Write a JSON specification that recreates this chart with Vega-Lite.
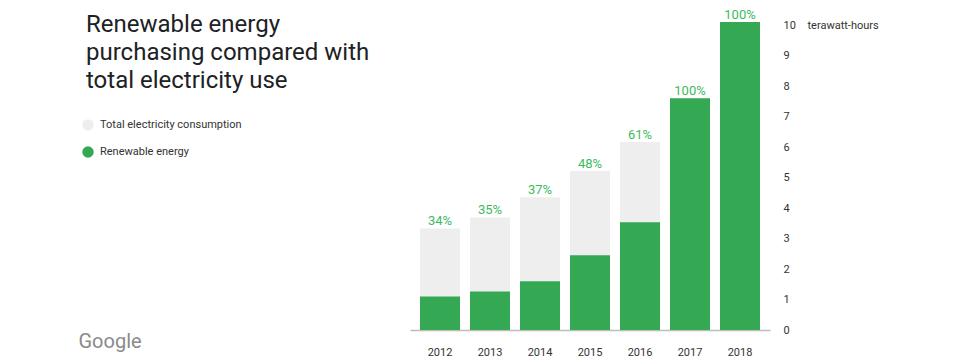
{
  "$schema": "https://vega.github.io/schema/vega-lite/v6.json",
  "width": 360,
  "height": 305,
  "autosize": {"type": "none"},
  "padding": {"left": 410, "top": 25, "right": 190, "bottom": 33},
  "background": "white",
  "config": {
    "font": "Roboto",
    "view": {"stroke": null}
  },
  "title": {
    "text": ["Renewable energy", "purchasing compared with", "total electricity use"],
    "anchor": "start",
    "frame": "group",
    "orient": "top",
    "baseline": "top",
    "font": "Roboto",
    "fontSize": 24,
    "fontWeight": "normal",
    "color": "#202124",
    "lineHeight": 28,
    "offset": 0,
    "dx": -324,
    "dy": 84
  },
  "data": {
    "values": [
      {"year": "2012", "total": 3.33, "renewable": 1.1, "pct": "34%"},
      {"year": "2013", "total": 3.69, "renewable": 1.26, "pct": "35%"},
      {"year": "2014", "total": 4.35, "renewable": 1.6, "pct": "37%"},
      {"year": "2015", "total": 5.21, "renewable": 2.45, "pct": "48%"},
      {"year": "2016", "total": 6.16, "renewable": 3.53, "pct": "61%"},
      {"year": "2017", "total": 7.6, "renewable": 7.6, "pct": "100%"},
      {"year": "2018", "total": 10.1, "renewable": 10.1, "pct": "100%"}
    ]
  },
  "encoding": {
    "x": {
      "field": "year",
      "type": "ordinal",
      "scale": {"paddingInner": 0.2, "paddingOuter": 0.2},
      "axis": {
        "title": "Google",
        "titleX": -332,
        "titleY": 11,
        "titleAlign": "left",
        "titleBaseline": "middle",
        "titleFontSize": 20,
        "titleFontWeight": "normal",
        "titleColor": "#8a8a8a",
        "titleFont": "Roboto",
        "labelAngle": 0,
        "labelPadding": 16,
        "labelFontSize": 11,
        "labelColor": "#333333",
        "ticks": false,
        "domainColor": "#bdbdbd",
        "domainWidth": 1.5
      }
    },
    "y": {
      "field": "total",
      "type": "quantitative",
      "scale": {"domain": [0, 10], "nice": false},
      "axis": {
        "orient": "right",
        "values": [0, 1, 2, 3, 4, 5, 6, 7, 8, 9, 10],
        "labelOverlap": false,
        "grid": false,
        "domain": false,
        "ticks": false,
        "labelPadding": 13,
        "labelAlign": "left",
        "labelFontSize": 11,
        "labelColor": "#333333",
        "title": "terawatt-hours",
        "titleAngle": 0,
        "titleX": 37,
        "titleY": 0,
        "titleAlign": "left",
        "titleBaseline": "middle",
        "titleFontSize": 11,
        "titleFontWeight": "normal",
        "titleColor": "#333333"
      }
    }
  },
  "layer": [
    {
      "mark": {"type": "bar"},
      "encoding": {
        "color": {
          "datum": "Total electricity consumption",
          "type": "nominal",
          "scale": {
            "domain": ["Total electricity consumption", "Renewable energy"],
            "range": ["#eeeeee", "#34a853"]
          },
          "legend": {
            "title": null,
            "orient": "none",
            "legendX": -328,
            "legendY": 94,
            "symbolType": "circle",
            "symbolSize": 130,
            "symbolStrokeWidth": 0,
            "labelFontSize": 11,
            "labelColor": "#333333",
            "labelOffset": 6,
            "rowPadding": 15
          }
        }
      }
    },
    {
      "mark": {"type": "bar"},
      "encoding": {
        "y": {
          "field": "renewable",
          "type": "quantitative",
          "axis": {
            "orient": "right",
            "values": [0, 1, 2, 3, 4, 5, 6, 7, 8, 9, 10],
            "labelOverlap": false,
            "grid": false,
            "domain": false,
            "ticks": false,
            "labelPadding": 13,
            "labelAlign": "left",
            "labelFontSize": 11,
            "labelColor": "#333333",
            "title": "terawatt-hours",
            "titleAngle": 0,
            "titleX": 37,
            "titleY": 0,
            "titleAlign": "left",
            "titleBaseline": "middle",
            "titleFontSize": 11,
            "titleFontWeight": "normal",
            "titleColor": "#333333"
          }
        },
        "color": {"datum": "Renewable energy", "type": "nominal"}
      }
    },
    {
      "mark": {"type": "text", "baseline": "alphabetic", "dy": -3, "fontSize": 13, "color": "#3dba5e"},
      "encoding": {
        "text": {"field": "pct"}
      }
    }
  ]
}
